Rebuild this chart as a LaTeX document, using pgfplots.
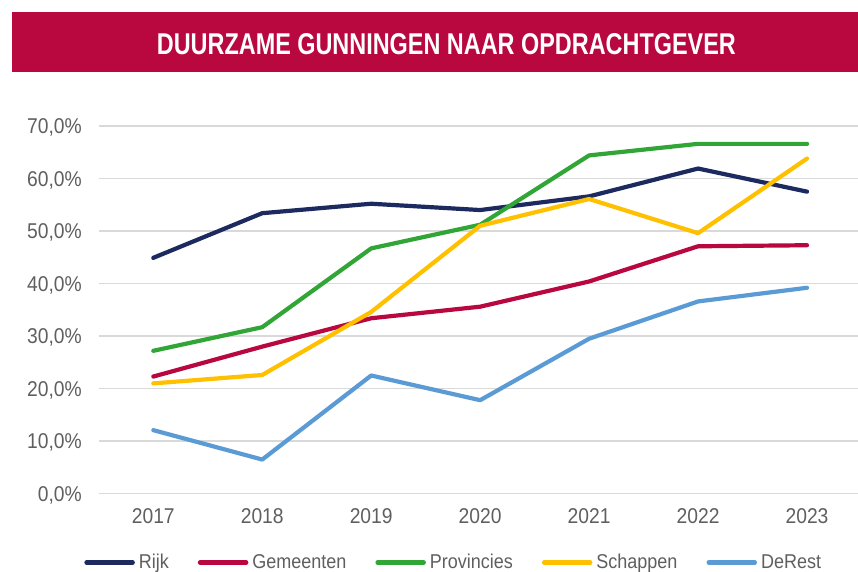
\documentclass[border=0pt]{standalone}
\usepackage{fontspec}
\setmainfont{Liberation Sans}[FakeStretch=0.9]
\usepackage{pgfplots}
\pgfplotsset{compat=1.18}
\definecolor{banner}{HTML}{B8083F}
\definecolor{rijk}{HTML}{1C2A5F}
\definecolor{gem}{HTML}{B8083F}
\definecolor{prov}{HTML}{31A637}
\definecolor{schap}{HTML}{FFC000}
\definecolor{rest}{HTML}{5B9BD5}
\definecolor{gridgray}{HTML}{D9D9D9}
\definecolor{labelgray}{HTML}{5F5F5F}
\begin{document}
\begin{tikzpicture}[x=1bp,y=1bp]
\useasboundingbox (0,0) rectangle (858,572);
\fill[banner] (12.3,499.7) rectangle (858,559.7);
\node[text=white, inner sep=0pt, anchor=base] at (446.4,517.7)
  {\resizebox{579bp}{21bp}{\bfseries DUURZAME GUNNINGEN NAAR OPDRACHTGEVER}};
\begin{axis}[
  at={(98.8bp,78.3bp)}, anchor=south west,
  scale only axis, width=762.7bp, height=367.7bp,
  xmin=-0.5, xmax=6.5, ymin=0, ymax=70,
  axis line style={draw=none},
  major tick length=0pt,
  ymajorgrids, grid style={draw=gridgray, line width=1.5bp},
  xtick={0,1,2,3,4,5,6},
  xticklabels={2017,2018,2019,2020,2021,2022,2023},
  ytick={0,10,20,30,40,50,60,70},
  yticklabels={{0,0\%},{10,0\%},{20,0\%},{30,0\%},{40,0\%},{50,0\%},{60,0\%},{70,0\%}},
  xticklabel style={anchor=north, inner sep=0pt, yshift=-14.6bp, text=labelgray, font=\fontsize{21.4bp}{24bp}\selectfont},
  yticklabel style={anchor=base east, inner sep=0pt, xshift=-16.8bp, yshift=-7.6bp, text=labelgray, font=\fontsize{21.4bp}{24bp}\selectfont},
  every axis plot/.append style={line width=4.2bp, line join=round, line cap=round},
  legend columns=5,
  legend cell align=left,
  legend image code/.code={\draw[#1, line width=4.5bp, line cap=round] (0bp,0bp) -- (46bp,0bp);},
  legend style={draw=none, fill=none, inner sep=0pt,
    at={(0.464,-0.1871)}, anchor=center,
    font=\fontsize{20bp}{22bp}\selectfont, text=labelgray,
    nodes={inner sep=0pt},
    /tikz/every odd column/.append style={column sep=4bp},
    /tikz/every even column/.append style={column sep=29bp}},
]
\addplot[rijk] coordinates {(0,44.9) (1,53.4) (2,55.2) (3,54.0) (4,56.6) (5,61.9) (6,57.5)};
\addlegendentry{Rijk}
\addplot[gem] coordinates {(0,22.3) (1,28.0) (2,33.4) (3,35.6) (4,40.4) (5,47.1) (6,47.3)};
\addlegendentry{Gemeenten}
\addplot[prov] coordinates {(0,27.2) (1,31.7) (2,46.7) (3,51.2) (4,64.4) (5,66.6) (6,66.6)};
\addlegendentry{Provincies}
\addplot[schap] coordinates {(0,21.0) (1,22.6) (2,34.6) (3,51.0) (4,56.1) (5,49.6) (6,63.8)};
\addlegendentry{Schappen}
\addplot[rest] coordinates {(0,12.1) (1,6.5) (2,22.5) (3,17.8) (4,29.5) (5,36.6) (6,39.2)};
\addlegendentry{DeRest}
\end{axis}
\end{tikzpicture}
\end{document}
